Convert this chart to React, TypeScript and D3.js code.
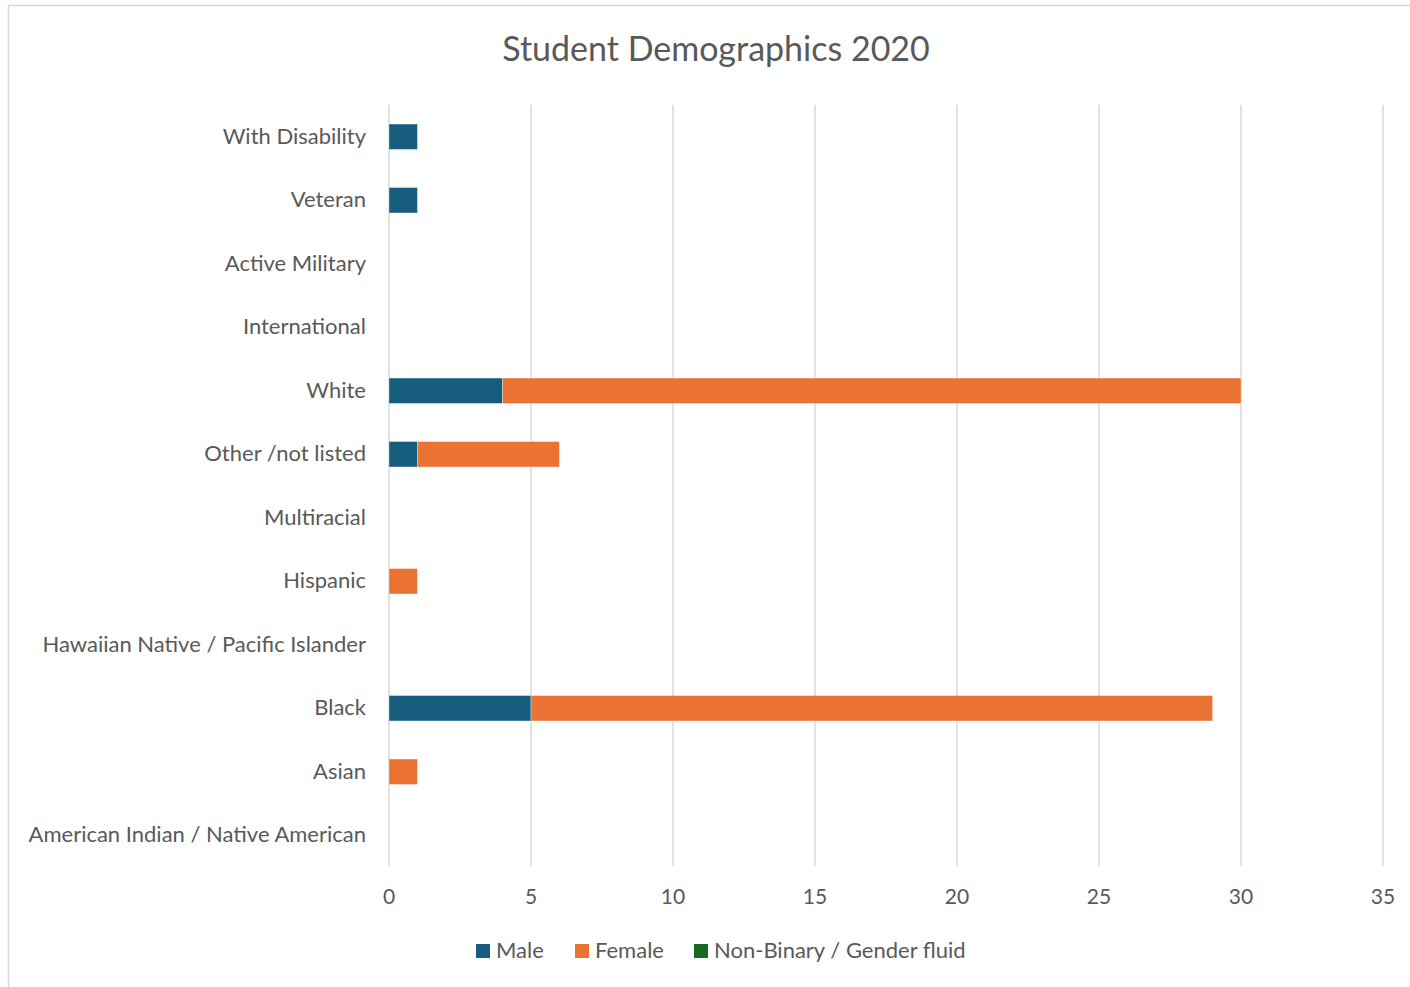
import React from "react";
import * as d3 from "d3";

const categories = [
  "American Indian / Native American",
  "Asian",
  "Black",
  "Hawaiian Native / Pacific Islander",
  "Hispanic",
  "Multiracial",
  "Other /not listed",
  "White",
  "International",
  "Active Military",
  "Veteran",
  "With Disability",
];
const male = [0, 0, 5, 0, 0, 0, 1, 4, 0, 0, 1, 1];
const female = [0, 1, 24, 0, 1, 0, 5, 26, 0, 0, 0, 0];
const nonBinary = [0, 0, 0, 0, 0, 0, 0, 0, 0, 0, 0, 0];
const seriesNames = ["Male", "Female", "Non-Binary / Gender fluid"];
const seriesColors = ["#175d80", "#ea7233", "#196b24"];
const xTicks = [0, 5, 10, 15, 20, 25, 30, 35];
const title = "Student Demographics 2020";

const W = 1410;
const H = 987;
const FONT = "Lato, 'Open Sans', sans-serif";
const TXT = "#595959";

export default function App() {
  const x = d3.scaleLinear().domain([0, 35]).range([389, 1383]);
  const y = d3
    .scaleBand<string>()
    .domain([...categories].reverse())
    .range([105, 867])
    .paddingInner(0.6)
    .paddingOuter(0.3);

  const rows = categories.map((c, i) => ({ c, m: male[i], f: female[i], n: nonBinary[i] }));
  const stack = d3
    .stack<any>()
    .keys(["m", "f", "n"])(rows);

  const legendItems = [
    { name: seriesNames[0], color: seriesColors[0], x: 476 },
    { name: seriesNames[1], color: seriesColors[1], x: 575 },
    { name: seriesNames[2], color: seriesColors[2], x: 694 },
  ];

  return (
    <svg width={W} height={H} style={{ position: "absolute", left: 0, top: 0 }}>
      <rect x={0} y={0} width={W} height={H} fill="#fff" />
      <rect x={8.5} y={5.5} width={W + 5} height={H + 5} fill="#fff" stroke="#d9d9d9" strokeWidth={1.5} />
      <text
        x={716}
        y={61}
        textAnchor="middle"
        fontFamily={FONT}
        fontSize={34}
        fill={TXT}
      >
        {title}
      </text>
      {xTicks.map((t) => (
        <g key={t}>
          <line x1={x(t)} x2={x(t)} y1={105} y2={866} stroke="#d9d9d9" strokeWidth={1.5} />
          <text
            x={x(t)}
            y={904}
            textAnchor="middle"
            fontFamily={FONT}
            fontSize={21}
            fill={TXT}
          >
            {t}
          </text>
        </g>
      ))}
      {categories.map((c) => (
        <text
          key={c}
          x={366}
          y={(y(c) as number) + y.bandwidth() / 2 + 7}
          textAnchor="end"
          fontFamily={FONT}
          fontSize={22}
          fill={TXT}
        >
          {c}
        </text>
      ))}
      {stack.map((layer, si) => (
        <g key={si}>
          {layer.map((d, i) =>
            d[1] - d[0] > 0 ? (
              <rect
                key={i}
                x={x(d[0])}
                y={y(categories[i]) as number}
                width={x(d[1]) - x(d[0])}
                height={y.bandwidth()}
                fill={seriesColors[si]}
                stroke="#ffffff"
                strokeOpacity={0.4}
                strokeWidth={0.8}
              />
            ) : null
          )}
        </g>
      ))}
      {legendItems.map((l) => (
        <g key={l.name}>
          <rect x={l.x} y={944} width={14} height={14} fill={l.color} />
          <text x={l.x + 20} y={958} fontFamily={FONT} fontSize={22} fill={TXT}>
            {l.name}
          </text>
        </g>
      ))}
    </svg>
  );
}
